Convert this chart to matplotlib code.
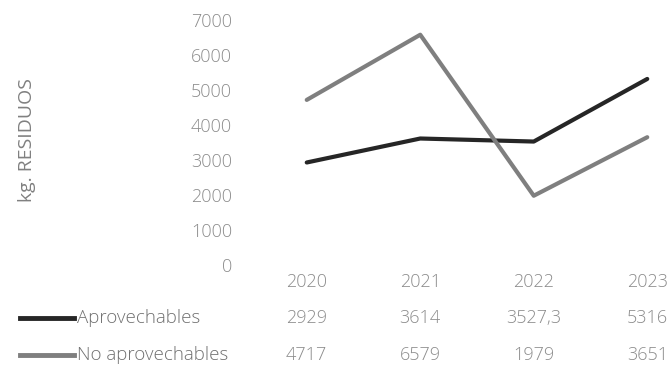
import matplotlib.pyplot as plt
import matplotlib.transforms as mtransforms
from matplotlib.lines import Line2D

years = ["2020", "2021", "2022", "2023"]
aprovechables = [2929, 3614, 3527.3, 5316]
no_aprovechables = [4717, 6579, 1979, 3651]
aprov_labels = ["2929", "3614", "3527,3", "5316"]
no_aprov_labels = ["4717", "6579", "1979", "3651"]

dark = "#262626"
gray = "#7f7f7f"
text_gray = "#8c8c8c"

plt.rcParams["font.family"] = ["Open Sans", "DejaVu Sans"]
plt.rcParams["font.weight"] = "light"

fig = plt.figure(figsize=(6.7, 3.67), dpi=100)
ax = fig.add_axes([250 / 670, 1 - 265 / 367, 454 / 670, 245 / 367])

x = list(range(len(years)))
ax.plot(x, aprovechables, color=dark, lw=3, solid_capstyle="round")
ax.plot(x, no_aprovechables, color=gray, lw=3, solid_capstyle="round")

ax.set_xlim(-0.5, 3.5)
ax.set_ylim(0, 7000)
ax.set_yticks(range(0, 7001, 1000))
ax.set_xticks(x)
ax.set_xticklabels(years)
ax.tick_params(axis="both", length=0, labelsize=13, labelcolor=text_gray)
ax.tick_params(axis="y", pad=13)
ax.tick_params(axis="x", pad=6)
for s in ax.spines.values():
    s.set_visible(False)

ax.set_ylabel("kg. RESIDUOS", fontsize=14, color="#808080")
ax.yaxis.set_label_coords(-0.472, 0.51)

# data table rows below the axis
trans = mtransforms.blended_transform_factory(ax.transData, fig.transFigure)
rows = [(aprov_labels, dark, "Aprovechables", 1 - 318 / 367),
        (no_aprov_labels, gray, "No aprovechables", 1 - 355 / 367)]
for labels, col, name, yy in rows:
    for xi, lab in zip(x, labels):
        fig.text(xi, yy, lab, transform=trans, ha="center", va="center",
                 fontsize=13, color=text_gray)
    fig.add_artist(Line2D([20 / 670, 74 / 670], [yy, yy], color=col, lw=3.5,
                          transform=fig.transFigure))
    fig.text(77 / 670, yy, name, ha="left", va="center", fontsize=13.5,
             color="#707070")

fig.savefig("out.png", dpi=100)
